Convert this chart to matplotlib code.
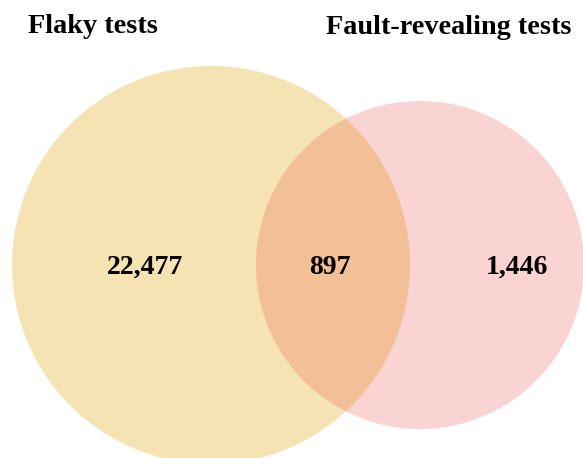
import matplotlib
matplotlib.use("Agg")
import matplotlib.pyplot as plt
from matplotlib.patches import Circle

# Data
set_names = ["Flaky tests", "Fault-revealing tests"]
only_left = 22477
both = 897
only_right = 1446

fig = plt.figure(figsize=(5.83, 4.58), dpi=100)
ax = fig.add_axes([0, 0, 1, 1])
ax.set_xlim(0, 583)
ax.set_ylim(458, 0)
ax.set_aspect("equal")
ax.axis("off")

col_left = "#F6E3B3"
col_right = "#FAD4D3"
col_both = "#F3BF96"

left = Circle((211, 265), 199, facecolor=col_left, edgecolor="none", zorder=1)
right = Circle((420, 265), 164, facecolor=col_right, edgecolor="none", zorder=1)
ax.add_patch(left)
ax.add_patch(right)
inter = Circle((420, 265), 164, facecolor=col_both, edgecolor="none", zorder=2)
ax.add_patch(inter)
inter.set_clip_path(left)

font = dict(family="Liberation Serif", fontweight="bold", color="black")
ax.text(28, 33, set_names[0], fontsize=20.3, ha="left", va="baseline", **font)
ax.text(571, 34, set_names[1], fontsize=20.3, ha="right", va="baseline", **font)

ax.text(145, 267, f"{only_left:,}", fontsize=20, ha="center", va="center", zorder=3, **font)
ax.text(330, 267, f"{both:,}", fontsize=20, ha="center", va="center", zorder=3, **font)
ax.text(517, 267, f"{only_right:,}", fontsize=20, ha="center", va="center", zorder=3, **font)

fig.savefig("out.png", dpi=100)
